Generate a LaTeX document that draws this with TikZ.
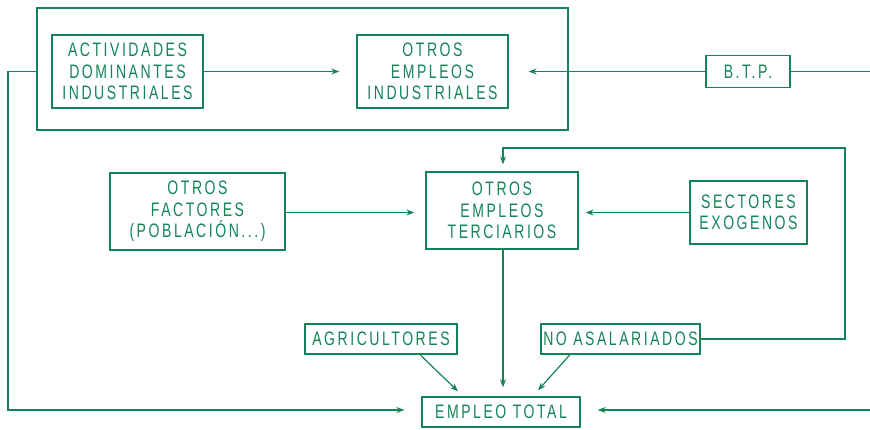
\documentclass[tikz,border=0pt]{standalone}
\usepackage{fontspec}
\setmainfont{Liberation Sans}[FakeStretch=0.72, LetterSpace=13]
\usetikzlibrary{arrows.meta}
\definecolor{ink}{RGB}{18,132,86}
\tikzset{
  box/.style={draw=ink, line width=1.3pt, text=ink, align=center, inner sep=0pt,
    font=\fontsize{19.5}{21.5}\selectfont},
  link/.style={draw=ink, line width=1.2pt},
  arr/.style={link, -{Stealth[length=8pt,width=6pt]}},
}
\begin{document}
\begin{tikzpicture}[x=1pt,y=-1pt]
  \useasboundingbox (0,0) rectangle (870,430);

  % industrial block
  \node[box, minimum width=531pt, minimum height=122pt] (outer) at (302.5,69) {};
  \node[box, minimum width=151pt, minimum height=73pt] (act) at (127.5,71.5)
    {ACTIVIDADES\\DOMINANTES\\INDUSTRIALES};
  \node[box, minimum width=151pt, minimum height=73pt] (oei) at (432.5,71.5)
    {OTROS\\EMPLEOS\\INDUSTRIALES};
  \node[box, minimum width=84pt, minimum height=32pt] (btp) at (748,71.5) {B.T.P.};

  % tertiary block
  \node[box, minimum width=175pt, minimum height=77pt] (ofac) at (197.5,211.5)
    {OTROS\\FACTORES\\(POBLACIÓN...)};
  \node[box, minimum width=152pt, minimum height=77pt] (oet) at (502,210.5)
    {OTROS\\EMPLEOS\\TERCIARIOS};
  \node[box, minimum width=117pt, minimum height=63pt] (sec) at (748.5,212.5)
    {SECTORES\\EXOGENOS};

  % bottom row
  \node[box, minimum width=152pt, minimum height=30pt] (agr) at (381,339) {AGRICULTORES};
  \node[box, minimum width=159pt, minimum height=30pt] (noa) at (620.5,339) {NO ASALARIADOS};
  \node[box, minimum width=158pt, minimum height=30pt] (tot) at (501,412) {EMPLEO TOTAL};

  \coordinate (rtop) at (870,71.5);
  \coordinate (rbot) at (870,410);
  \coordinate (lft) at (8,71.5);
  \coordinate (loop) at (845,148);
  \coordinate (mid) at (503,212.5);

  % connectors
  \draw[arr, shorten >=17pt] (act.east) -- (oei.west);
  \draw[link] (rtop) -- (btp.east);
  \draw[arr, shorten >=20pt] (btp.west) -- (oei.east);
  \draw[arr, shorten >=17pt] (act.west -| outer.west) -- (lft) |- (tot.west |- rbot);
  \draw[arr, shorten >=17pt] (rbot) -- (tot.east |- rbot);
  \draw[arr, shorten >=11pt] (ofac.east |- mid) -- (oet.west |- mid);
  \draw[arr, shorten >=7pt] (sec.west |- mid) -- (oet.east |- mid);
  \draw[arr, shorten >=9pt] (oet.south -| mid) -- (tot.north -| mid);
  \draw[arr] ([xshift=39pt]agr.south) -- ([xshift=-43pt,yshift=5pt]tot.north);
  \draw[arr] ([xshift=-50.5pt]noa.south) -- ([xshift=37pt,yshift=6pt]tot.north);
  \draw[arr, shorten >=7pt] (noa.east) -| (loop) -| (oet.north -| mid);
\end{tikzpicture}
\end{document}
